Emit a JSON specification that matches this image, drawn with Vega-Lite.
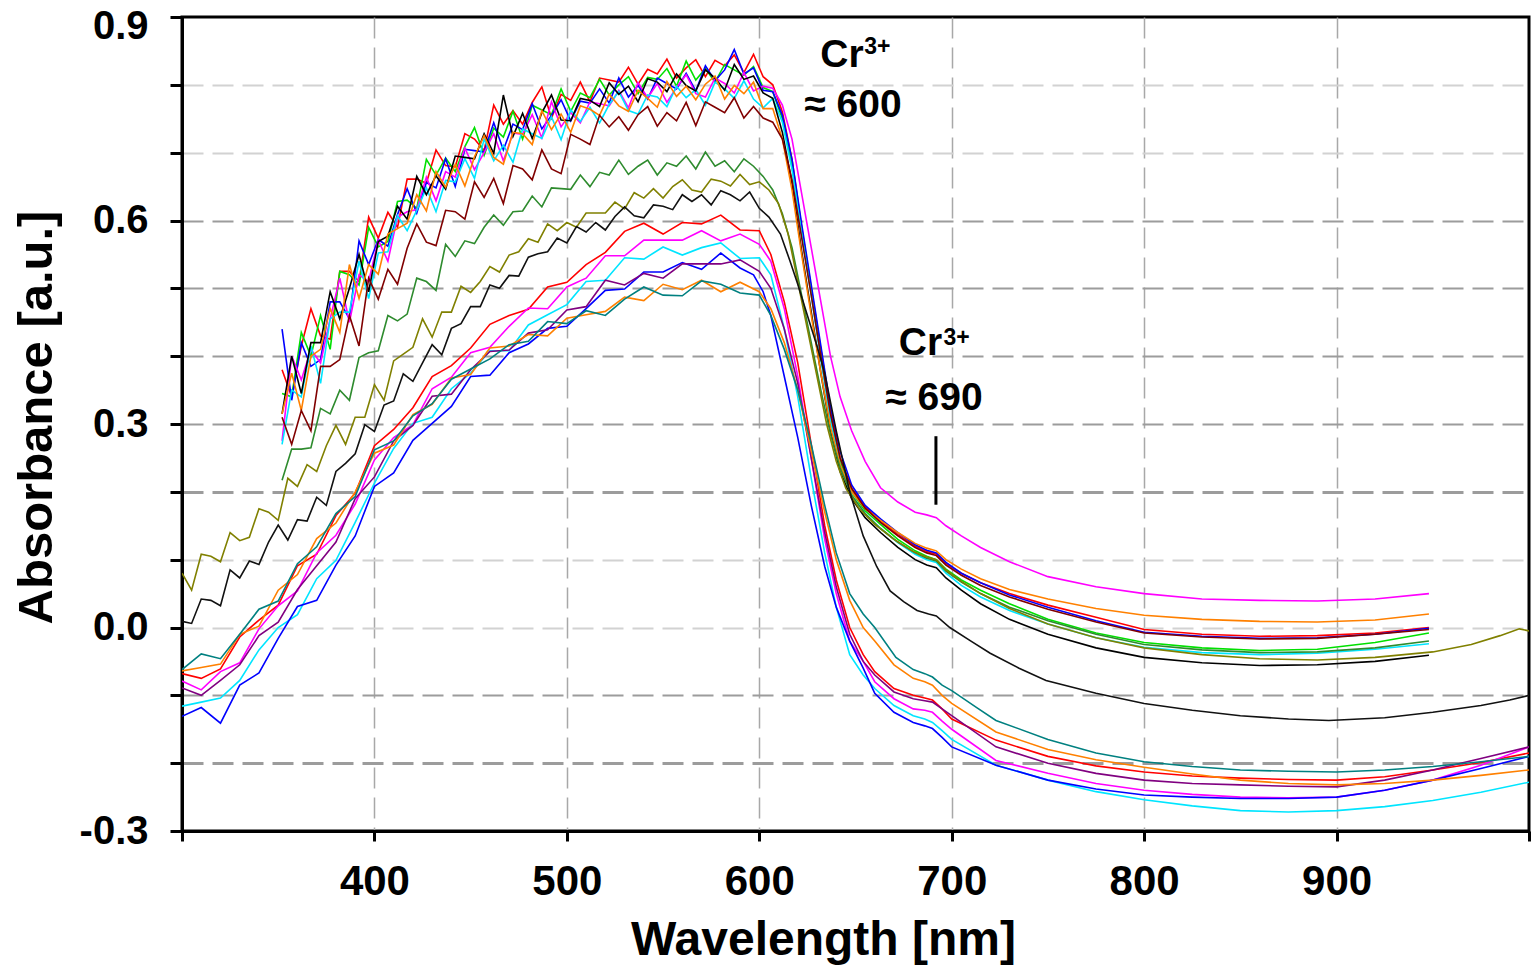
{
"$schema":"https://vega.github.io/schema/vega-lite/v6.json",
"width":1347,"height":814,
"autosize":{"type":"none"},
"padding":{"left":182,"top":17,"right":5,"bottom":148},
"background":"#ffffff",
"config":{"view":{"stroke":"#000000","strokeWidth":3},"font":"Liberation Sans"},
"datasets":{
"spectra":[
{"s":"a1","x":352,"y":0.38},{"s":"a1","x":357,"y":0.34},{"s":"a1","x":362,"y":0.415},{"s":"a1","x":367,"y":0.47},{"s":"a1","x":372,"y":0.43},{"s":"a1","x":377,"y":0.425},{"s":"a1","x":382,"y":0.525},{"s":"a1","x":387,"y":0.525},{"s":"a1","x":392,"y":0.51},{"s":"a1","x":397,"y":0.605},{"s":"a1","x":402,"y":0.574},{"s":"a1","x":407,"y":0.612},{"s":"a1","x":412,"y":0.59},{"s":"a1","x":417,"y":0.661},{"s":"a1","x":422,"y":0.661},{"s":"a1","x":427,"y":0.655},{"s":"a1","x":432,"y":0.704},{"s":"a1","x":437,"y":0.681},{"s":"a1","x":442,"y":0.679},{"s":"a1","x":447,"y":0.728},{"s":"a1","x":452,"y":0.72},{"s":"a1","x":457,"y":0.703},{"s":"a1","x":462,"y":0.77},{"s":"a1","x":467,"y":0.742},{"s":"a1","x":472,"y":0.762},{"s":"a1","x":477,"y":0.742},{"s":"a1","x":482,"y":0.774},{"s":"a1","x":487,"y":0.797},{"s":"a1","x":492,"y":0.751},{"s":"a1","x":497,"y":0.786},{"s":"a1","x":502,"y":0.777},{"s":"a1","x":507,"y":0.804},{"s":"a1","x":512,"y":0.775},{"s":"a1","x":517,"y":0.81},{"s":"a1","x":522,"y":0.807},{"s":"a1","x":527,"y":0.804},{"s":"a1","x":532,"y":0.826},{"s":"a1","x":537,"y":0.801},{"s":"a1","x":542,"y":0.823},{"s":"a1","x":547,"y":0.816},{"s":"a1","x":552,"y":0.838},{"s":"a1","x":557,"y":0.81},{"s":"a1","x":562,"y":0.825},{"s":"a1","x":567,"y":0.837},{"s":"a1","x":572,"y":0.812},{"s":"a1","x":577,"y":0.836},{"s":"a1","x":582,"y":0.828},{"s":"a1","x":587,"y":0.844},{"s":"a1","x":592,"y":0.818},{"s":"a1","x":597,"y":0.845},{"s":"a1","x":602,"y":0.812},
{"s":"a1","x":607,"y":0.80},{"s":"a1","x":612,"y":0.76},{"s":"a1","x":617,"y":0.69},{"s":"a1","x":622,"y":0.59},{"s":"a1","x":627,"y":0.50},{"s":"a1","x":632,"y":0.41},{"s":"a1","x":637,"y":0.32},{"s":"a1","x":642,"y":0.25},{"s":"a1","x":648,"y":0.205},{"s":"a1","x":655,"y":0.178},{"s":"a1","x":663,"y":0.157},{"s":"a1","x":672,"y":0.137},{"s":"a1","x":681,"y":0.12},{"s":"a1","x":687,"y":0.112},{"s":"a1","x":692,"y":0.108},{"s":"a1","x":697,"y":0.094},{"s":"a1","x":705,"y":0.08},{"s":"a1","x":715,"y":0.066},{"s":"a1","x":730,"y":0.05},{"s":"a1","x":750,"y":0.033},{"s":"a1","x":775,"y":0.015},{"s":"a1","x":800,"y":-0.003},{"s":"a1","x":830,"y":-0.01},{"s":"a1","x":860,"y":-0.013},{"s":"a1","x":890,"y":-0.012},{"s":"a1","x":920,"y":-0.008},{"s":"a1","x":948,"y":0.0},
{"s":"a2","x":352,"y":0.345},{"s":"a2","x":357,"y":0.34},{"s":"a2","x":362,"y":0.435},{"s":"a2","x":367,"y":0.40},{"s":"a2","x":372,"y":0.46},{"s":"a2","x":377,"y":0.41},{"s":"a2","x":382,"y":0.525},{"s":"a2","x":387,"y":0.52},{"s":"a2","x":392,"y":0.505},{"s":"a2","x":397,"y":0.59},{"s":"a2","x":402,"y":0.561},{"s":"a2","x":407,"y":0.569},{"s":"a2","x":412,"y":0.628},{"s":"a2","x":417,"y":0.63},{"s":"a2","x":422,"y":0.618},{"s":"a2","x":427,"y":0.69},{"s":"a2","x":432,"y":0.667},{"s":"a2","x":437,"y":0.692},{"s":"a2","x":442,"y":0.672},{"s":"a2","x":447,"y":0.709},{"s":"a2","x":452,"y":0.737},{"s":"a2","x":457,"y":0.696},{"s":"a2","x":462,"y":0.736},{"s":"a2","x":467,"y":0.723},{"s":"a2","x":472,"y":0.761},{"s":"a2","x":477,"y":0.72},{"s":"a2","x":482,"y":0.77},{"s":"a2","x":487,"y":0.763},{"s":"a2","x":492,"y":0.756},{"s":"a2","x":497,"y":0.794},{"s":"a2","x":502,"y":0.761},{"s":"a2","x":507,"y":0.788},{"s":"a2","x":512,"y":0.781},{"s":"a2","x":517,"y":0.808},{"s":"a2","x":522,"y":0.785},{"s":"a2","x":527,"y":0.80},{"s":"a2","x":532,"y":0.812},{"s":"a2","x":537,"y":0.787},{"s":"a2","x":542,"y":0.811},{"s":"a2","x":547,"y":0.808},{"s":"a2","x":552,"y":0.824},{"s":"a2","x":557,"y":0.798},{"s":"a2","x":562,"y":0.835},{"s":"a2","x":567,"y":0.807},{"s":"a2","x":572,"y":0.824},{"s":"a2","x":577,"y":0.804},{"s":"a2","x":582,"y":0.83},{"s":"a2","x":587,"y":0.822},{"s":"a2","x":592,"y":0.814},{"s":"a2","x":597,"y":0.827},{"s":"a2","x":602,"y":0.796},
{"s":"a2","x":607,"y":0.79},{"s":"a2","x":612,"y":0.75},{"s":"a2","x":617,"y":0.68},{"s":"a2","x":622,"y":0.585},{"s":"a2","x":627,"y":0.495},{"s":"a2","x":632,"y":0.40},{"s":"a2","x":637,"y":0.31},{"s":"a2","x":642,"y":0.245},{"s":"a2","x":648,"y":0.20},{"s":"a2","x":655,"y":0.172},{"s":"a2","x":663,"y":0.152},{"s":"a2","x":672,"y":0.13},{"s":"a2","x":681,"y":0.113},{"s":"a2","x":687,"y":0.105},{"s":"a2","x":692,"y":0.10},{"s":"a2","x":697,"y":0.086},{"s":"a2","x":705,"y":0.07},{"s":"a2","x":715,"y":0.055},{"s":"a2","x":730,"y":0.035},{"s":"a2","x":750,"y":0.012},{"s":"a2","x":775,"y":-0.008},{"s":"a2","x":800,"y":-0.022},{"s":"a2","x":830,"y":-0.03},{"s":"a2","x":860,"y":-0.034},{"s":"a2","x":890,"y":-0.032},{"s":"a2","x":920,"y":-0.022},{"s":"a2","x":948,"y":-0.008},
{"s":"a3","x":352,"y":0.44},{"s":"a3","x":357,"y":0.335},{"s":"a3","x":362,"y":0.42},{"s":"a3","x":367,"y":0.385},{"s":"a3","x":372,"y":0.395},{"s":"a3","x":377,"y":0.48},{"s":"a3","x":382,"y":0.48},{"s":"a3","x":387,"y":0.455},{"s":"a3","x":392,"y":0.57},{"s":"a3","x":397,"y":0.535},{"s":"a3","x":402,"y":0.572},{"s":"a3","x":407,"y":0.562},{"s":"a3","x":412,"y":0.609},{"s":"a3","x":417,"y":0.647},{"s":"a3","x":422,"y":0.611},{"s":"a3","x":427,"y":0.656},{"s":"a3","x":432,"y":0.648},{"s":"a3","x":437,"y":0.691},{"s":"a3","x":442,"y":0.65},{"s":"a3","x":447,"y":0.705},{"s":"a3","x":452,"y":0.703},{"s":"a3","x":457,"y":0.701},{"s":"a3","x":462,"y":0.744},{"s":"a3","x":467,"y":0.704},{"s":"a3","x":472,"y":0.742},{"s":"a3","x":477,"y":0.734},{"s":"a3","x":482,"y":0.772},{"s":"a3","x":487,"y":0.735},{"s":"a3","x":492,"y":0.755},{"s":"a3","x":497,"y":0.778},{"s":"a3","x":502,"y":0.747},{"s":"a3","x":507,"y":0.776},{"s":"a3","x":512,"y":0.773},{"s":"a3","x":517,"y":0.794},{"s":"a3","x":522,"y":0.773},{"s":"a3","x":527,"y":0.81},{"s":"a3","x":532,"y":0.782},{"s":"a3","x":537,"y":0.799},{"s":"a3","x":542,"y":0.779},{"s":"a3","x":547,"y":0.81},{"s":"a3","x":552,"y":0.802},{"s":"a3","x":557,"y":0.794},{"s":"a3","x":562,"y":0.817},{"s":"a3","x":567,"y":0.791},{"s":"a3","x":572,"y":0.828},{"s":"a3","x":577,"y":0.806},{"s":"a3","x":582,"y":0.822},{"s":"a3","x":587,"y":0.852},{"s":"a3","x":592,"y":0.816},{"s":"a3","x":597,"y":0.825},{"s":"a3","x":602,"y":0.792},
{"s":"a3","x":607,"y":0.79},{"s":"a3","x":612,"y":0.755},{"s":"a3","x":617,"y":0.69},{"s":"a3","x":622,"y":0.595},{"s":"a3","x":627,"y":0.505},{"s":"a3","x":632,"y":0.415},{"s":"a3","x":637,"y":0.325},{"s":"a3","x":642,"y":0.26},{"s":"a3","x":648,"y":0.21},{"s":"a3","x":655,"y":0.18},{"s":"a3","x":663,"y":0.16},{"s":"a3","x":672,"y":0.14},{"s":"a3","x":681,"y":0.122},{"s":"a3","x":687,"y":0.114},{"s":"a3","x":692,"y":0.11},{"s":"a3","x":697,"y":0.096},{"s":"a3","x":705,"y":0.08},{"s":"a3","x":715,"y":0.066},{"s":"a3","x":730,"y":0.048},{"s":"a3","x":750,"y":0.03},{"s":"a3","x":775,"y":0.01},{"s":"a3","x":800,"y":-0.007},{"s":"a3","x":830,"y":-0.013},{"s":"a3","x":860,"y":-0.016},{"s":"a3","x":890,"y":-0.015},{"s":"a3","x":920,"y":-0.01},{"s":"a3","x":948,"y":-0.001},
{"s":"a4","x":352,"y":0.275},{"s":"a4","x":357,"y":0.40},{"s":"a4","x":362,"y":0.365},{"s":"a4","x":367,"y":0.41},{"s":"a4","x":372,"y":0.39},{"s":"a4","x":377,"y":0.455},{"s":"a4","x":382,"y":0.515},{"s":"a4","x":387,"y":0.45},{"s":"a4","x":392,"y":0.52},{"s":"a4","x":397,"y":0.51},{"s":"a4","x":402,"y":0.571},{"s":"a4","x":407,"y":0.54},{"s":"a4","x":412,"y":0.605},{"s":"a4","x":417,"y":0.613},{"s":"a4","x":422,"y":0.616},{"s":"a4","x":427,"y":0.664},{"s":"a4","x":432,"y":0.629},{"s":"a4","x":437,"y":0.672},{"s":"a4","x":442,"y":0.664},{"s":"a4","x":447,"y":0.707},{"s":"a4","x":452,"y":0.675},{"s":"a4","x":457,"y":0.70},{"s":"a4","x":462,"y":0.728},{"s":"a4","x":467,"y":0.688},{"s":"a4","x":472,"y":0.729},{"s":"a4","x":477,"y":0.727},{"s":"a4","x":482,"y":0.756},{"s":"a4","x":487,"y":0.722},{"s":"a4","x":492,"y":0.775},{"s":"a4","x":497,"y":0.738},{"s":"a4","x":502,"y":0.759},{"s":"a4","x":507,"y":0.744},{"s":"a4","x":512,"y":0.775},{"s":"a4","x":517,"y":0.772},{"s":"a4","x":522,"y":0.769},{"s":"a4","x":527,"y":0.792},{"s":"a4","x":532,"y":0.766},{"s":"a4","x":537,"y":0.803},{"s":"a4","x":542,"y":0.781},{"s":"a4","x":547,"y":0.802},{"s":"a4","x":552,"y":0.774},{"s":"a4","x":557,"y":0.796},{"s":"a4","x":562,"y":0.815},{"s":"a4","x":567,"y":0.787},{"s":"a4","x":572,"y":0.782},{"s":"a4","x":577,"y":0.81},{"s":"a4","x":582,"y":0.802},{"s":"a4","x":587,"y":0.788},{"s":"a4","x":592,"y":0.818},{"s":"a4","x":597,"y":0.791},{"s":"a4","x":602,"y":0.798},
{"s":"a4","x":607,"y":0.795},{"s":"a4","x":612,"y":0.77},{"s":"a4","x":617,"y":0.72},{"s":"a4","x":622,"y":0.64},{"s":"a4","x":627,"y":0.56},{"s":"a4","x":632,"y":0.48},{"s":"a4","x":637,"y":0.40},{"s":"a4","x":642,"y":0.34},{"s":"a4","x":648,"y":0.29},{"s":"a4","x":655,"y":0.245},{"s":"a4","x":663,"y":0.206},{"s":"a4","x":672,"y":0.185},{"s":"a4","x":681,"y":0.17},{"s":"a4","x":687,"y":0.166},{"s":"a4","x":692,"y":0.162},{"s":"a4","x":697,"y":0.15},{"s":"a4","x":705,"y":0.135},{"s":"a4","x":715,"y":0.118},{"s":"a4","x":730,"y":0.097},{"s":"a4","x":750,"y":0.075},{"s":"a4","x":775,"y":0.06},{"s":"a4","x":800,"y":0.05},{"s":"a4","x":830,"y":0.042},{"s":"a4","x":860,"y":0.04},{"s":"a4","x":890,"y":0.039},{"s":"a4","x":920,"y":0.042},{"s":"a4","x":948,"y":0.05},
{"s":"a5","x":352,"y":0.27},{"s":"a5","x":357,"y":0.35},{"s":"a5","x":362,"y":0.34},{"s":"a5","x":367,"y":0.415},{"s":"a5","x":372,"y":0.36},{"s":"a5","x":377,"y":0.455},{"s":"a5","x":382,"y":0.465},{"s":"a5","x":387,"y":0.465},{"s":"a5","x":392,"y":0.54},{"s":"a5","x":397,"y":0.485},{"s":"a5","x":402,"y":0.552},{"s":"a5","x":407,"y":0.554},{"s":"a5","x":412,"y":0.607},{"s":"a5","x":417,"y":0.585},{"s":"a5","x":422,"y":0.615},{"s":"a5","x":427,"y":0.648},{"s":"a5","x":432,"y":0.613},{"s":"a5","x":437,"y":0.659},{"s":"a5","x":442,"y":0.657},{"s":"a5","x":447,"y":0.691},{"s":"a5","x":452,"y":0.662},{"s":"a5","x":457,"y":0.72},{"s":"a5","x":462,"y":0.688},{"s":"a5","x":467,"y":0.711},{"s":"a5","x":472,"y":0.686},{"s":"a5","x":477,"y":0.735},{"s":"a5","x":482,"y":0.728},{"s":"a5","x":487,"y":0.721},{"s":"a5","x":492,"y":0.753},{"s":"a5","x":497,"y":0.719},{"s":"a5","x":502,"y":0.763},{"s":"a5","x":507,"y":0.746},{"s":"a5","x":512,"y":0.767},{"s":"a5","x":517,"y":0.744},{"s":"a5","x":522,"y":0.771},{"s":"a5","x":527,"y":0.79},{"s":"a5","x":532,"y":0.762},{"s":"a5","x":537,"y":0.757},{"s":"a5","x":542,"y":0.785},{"s":"a5","x":547,"y":0.782},{"s":"a5","x":552,"y":0.768},{"s":"a5","x":557,"y":0.798},{"s":"a5","x":562,"y":0.781},{"s":"a5","x":567,"y":0.793},{"s":"a5","x":572,"y":0.77},{"s":"a5","x":577,"y":0.804},{"s":"a5","x":582,"y":0.794},{"s":"a5","x":587,"y":0.78},{"s":"a5","x":592,"y":0.806},{"s":"a5","x":597,"y":0.779},{"s":"a5","x":602,"y":0.766},
{"s":"a5","x":607,"y":0.78},{"s":"a5","x":612,"y":0.745},{"s":"a5","x":617,"y":0.675},{"s":"a5","x":622,"y":0.58},{"s":"a5","x":627,"y":0.49},{"s":"a5","x":632,"y":0.395},{"s":"a5","x":637,"y":0.305},{"s":"a5","x":642,"y":0.24},{"s":"a5","x":648,"y":0.195},{"s":"a5","x":655,"y":0.168},{"s":"a5","x":663,"y":0.146},{"s":"a5","x":672,"y":0.125},{"s":"a5","x":681,"y":0.108},{"s":"a5","x":687,"y":0.1},{"s":"a5","x":692,"y":0.096},{"s":"a5","x":697,"y":0.08},{"s":"a5","x":705,"y":0.062},{"s":"a5","x":715,"y":0.045},{"s":"a5","x":730,"y":0.025},{"s":"a5","x":750,"y":0.005},{"s":"a5","x":775,"y":-0.015},{"s":"a5","x":800,"y":-0.029},{"s":"a5","x":830,"y":-0.037},{"s":"a5","x":860,"y":-0.04},{"s":"a5","x":890,"y":-0.038},{"s":"a5","x":920,"y":-0.032},{"s":"a5","x":948,"y":-0.024},
{"s":"a6","x":352,"y":0.315},{"s":"a6","x":357,"y":0.40},{"s":"a6","x":362,"y":0.345},{"s":"a6","x":367,"y":0.42},{"s":"a6","x":372,"y":0.42},{"s":"a6","x":377,"y":0.495},{"s":"a6","x":382,"y":0.455},{"s":"a6","x":387,"y":0.50},{"s":"a6","x":392,"y":0.55},{"s":"a6","x":397,"y":0.495},{"s":"a6","x":402,"y":0.569},{"s":"a6","x":407,"y":0.577},{"s":"a6","x":412,"y":0.621},{"s":"a6","x":417,"y":0.602},{"s":"a6","x":422,"y":0.665},{"s":"a6","x":427,"y":0.638},{"s":"a6","x":432,"y":0.666},{"s":"a6","x":437,"y":0.646},{"s":"a6","x":442,"y":0.695},{"s":"a6","x":447,"y":0.693},{"s":"a6","x":452,"y":0.691},{"s":"a6","x":457,"y":0.728},{"s":"a6","x":462,"y":0.699},{"s":"a6","x":467,"y":0.785},{"s":"a6","x":472,"y":0.724},{"s":"a6","x":477,"y":0.758},{"s":"a6","x":482,"y":0.721},{"s":"a6","x":487,"y":0.759},{"s":"a6","x":492,"y":0.785},{"s":"a6","x":497,"y":0.748},{"s":"a6","x":502,"y":0.747},{"s":"a6","x":507,"y":0.78},{"s":"a6","x":512,"y":0.777},{"s":"a6","x":517,"y":0.768},{"s":"a6","x":522,"y":0.803},{"s":"a6","x":527,"y":0.786},{"s":"a6","x":532,"y":0.798},{"s":"a6","x":537,"y":0.775},{"s":"a6","x":542,"y":0.809},{"s":"a6","x":547,"y":0.804},{"s":"a6","x":552,"y":0.79},{"s":"a6","x":557,"y":0.816},{"s":"a6","x":562,"y":0.799},{"s":"a6","x":567,"y":0.791},{"s":"a6","x":572,"y":0.822},{"s":"a6","x":577,"y":0.81},{"s":"a6","x":582,"y":0.792},{"s":"a6","x":587,"y":0.83},{"s":"a6","x":592,"y":0.808},{"s":"a6","x":597,"y":0.813},{"s":"a6","x":602,"y":0.788},
{"s":"a6","x":607,"y":0.78},{"s":"a6","x":612,"y":0.73},{"s":"a6","x":617,"y":0.655},{"s":"a6","x":622,"y":0.555},{"s":"a6","x":627,"y":0.465},{"s":"a6","x":632,"y":0.375},{"s":"a6","x":637,"y":0.29},{"s":"a6","x":642,"y":0.23},{"s":"a6","x":648,"y":0.19},{"s":"a6","x":655,"y":0.162},{"s":"a6","x":663,"y":0.14},{"s":"a6","x":672,"y":0.118},{"s":"a6","x":681,"y":0.1},{"s":"a6","x":687,"y":0.092},{"s":"a6","x":692,"y":0.088},{"s":"a6","x":697,"y":0.073},{"s":"a6","x":705,"y":0.055},{"s":"a6","x":715,"y":0.035},{"s":"a6","x":730,"y":0.012},{"s":"a6","x":750,"y":-0.01},{"s":"a6","x":775,"y":-0.03},{"s":"a6","x":800,"y":-0.044},{"s":"a6","x":830,"y":-0.052},{"s":"a6","x":860,"y":-0.056},{"s":"a6","x":890,"y":-0.055},{"s":"a6","x":920,"y":-0.05},{"s":"a6","x":948,"y":-0.041},
{"s":"a7","x":352,"y":0.315},{"s":"a7","x":357,"y":0.375},{"s":"a7","x":362,"y":0.32},{"s":"a7","x":367,"y":0.40},{"s":"a7","x":372,"y":0.41},{"s":"a7","x":377,"y":0.47},{"s":"a7","x":382,"y":0.435},{"s":"a7","x":387,"y":0.535},{"s":"a7","x":392,"y":0.485},{"s":"a7","x":397,"y":0.535},{"s":"a7","x":402,"y":0.521},{"s":"a7","x":407,"y":0.58},{"s":"a7","x":412,"y":0.588},{"s":"a7","x":417,"y":0.596},{"s":"a7","x":422,"y":0.638},{"s":"a7","x":427,"y":0.614},{"s":"a7","x":432,"y":0.672},{"s":"a7","x":437,"y":0.649},{"s":"a7","x":442,"y":0.683},{"s":"a7","x":447,"y":0.651},{"s":"a7","x":452,"y":0.694},{"s":"a7","x":457,"y":0.725},{"s":"a7","x":462,"y":0.693},{"s":"a7","x":467,"y":0.683},{"s":"a7","x":472,"y":0.73},{"s":"a7","x":477,"y":0.728},{"s":"a7","x":482,"y":0.712},{"s":"a7","x":487,"y":0.762},{"s":"a7","x":492,"y":0.734},{"s":"a7","x":497,"y":0.757},{"s":"a7","x":502,"y":0.73},{"s":"a7","x":507,"y":0.769},{"s":"a7","x":512,"y":0.764},{"s":"a7","x":517,"y":0.755},{"s":"a7","x":522,"y":0.786},{"s":"a7","x":527,"y":0.769},{"s":"a7","x":532,"y":0.761},{"s":"a7","x":537,"y":0.792},{"s":"a7","x":542,"y":0.78},{"s":"a7","x":547,"y":0.767},{"s":"a7","x":552,"y":0.805},{"s":"a7","x":557,"y":0.783},{"s":"a7","x":562,"y":0.798},{"s":"a7","x":567,"y":0.778},{"s":"a7","x":572,"y":0.801},{"s":"a7","x":577,"y":0.813},{"s":"a7","x":582,"y":0.779},{"s":"a7","x":587,"y":0.799},{"s":"a7","x":592,"y":0.787},{"s":"a7","x":597,"y":0.804},{"s":"a7","x":602,"y":0.765},
{"s":"a7","x":607,"y":0.765},{"s":"a7","x":612,"y":0.72},{"s":"a7","x":617,"y":0.645},{"s":"a7","x":622,"y":0.55},{"s":"a7","x":627,"y":0.46},{"s":"a7","x":632,"y":0.375},{"s":"a7","x":637,"y":0.295},{"s":"a7","x":642,"y":0.24},{"s":"a7","x":648,"y":0.2},{"s":"a7","x":655,"y":0.175},{"s":"a7","x":663,"y":0.158},{"s":"a7","x":672,"y":0.14},{"s":"a7","x":681,"y":0.124},{"s":"a7","x":687,"y":0.117},{"s":"a7","x":692,"y":0.113},{"s":"a7","x":697,"y":0.1},{"s":"a7","x":705,"y":0.086},{"s":"a7","x":715,"y":0.072},{"s":"a7","x":730,"y":0.056},{"s":"a7","x":750,"y":0.042},{"s":"a7","x":775,"y":0.028},{"s":"a7","x":800,"y":0.018},{"s":"a7","x":830,"y":0.012},{"s":"a7","x":860,"y":0.009},{"s":"a7","x":890,"y":0.008},{"s":"a7","x":920,"y":0.011},{"s":"a7","x":948,"y":0.02},
{"s":"a8","x":352,"y":0.31},{"s":"a8","x":357,"y":0.27},{"s":"a8","x":362,"y":0.32},{"s":"a8","x":367,"y":0.29},{"s":"a8","x":372,"y":0.385},{"s":"a8","x":377,"y":0.385},{"s":"a8","x":382,"y":0.395},{"s":"a8","x":387,"y":0.46},{"s":"a8","x":392,"y":0.415},{"s":"a8","x":397,"y":0.515},{"s":"a8","x":402,"y":0.484},{"s":"a8","x":407,"y":0.528},{"s":"a8","x":412,"y":0.506},{"s":"a8","x":417,"y":0.559},{"s":"a8","x":422,"y":0.595},{"s":"a8","x":427,"y":0.568},{"s":"a8","x":432,"y":0.563},{"s":"a8","x":437,"y":0.615},{"s":"a8","x":442,"y":0.613},{"s":"a8","x":447,"y":0.602},{"s":"a8","x":452,"y":0.657},{"s":"a8","x":457,"y":0.634},{"s":"a8","x":462,"y":0.662},{"s":"a8","x":467,"y":0.625},{"s":"a8","x":472,"y":0.681},{"s":"a8","x":477,"y":0.676},{"s":"a8","x":482,"y":0.66},{"s":"a8","x":487,"y":0.704},{"s":"a8","x":492,"y":0.676},{"s":"a8","x":497,"y":0.669},{"s":"a8","x":502,"y":0.727},{"s":"a8","x":507,"y":0.72},{"s":"a8","x":512,"y":0.712},{"s":"a8","x":517,"y":0.755},{"s":"a8","x":522,"y":0.738},{"s":"a8","x":527,"y":0.753},{"s":"a8","x":532,"y":0.733},{"s":"a8","x":537,"y":0.756},{"s":"a8","x":542,"y":0.768},{"s":"a8","x":547,"y":0.739},{"s":"a8","x":552,"y":0.759},{"s":"a8","x":557,"y":0.747},{"s":"a8","x":562,"y":0.774},{"s":"a8","x":567,"y":0.74},{"s":"a8","x":572,"y":0.775},{"s":"a8","x":577,"y":0.767},{"s":"a8","x":582,"y":0.759},{"s":"a8","x":587,"y":0.781},{"s":"a8","x":592,"y":0.751},{"s":"a8","x":597,"y":0.768},{"s":"a8","x":602,"y":0.751},
{"s":"a8","x":607,"y":0.745},{"s":"a8","x":612,"y":0.72},{"s":"a8","x":617,"y":0.66},{"s":"a8","x":622,"y":0.575},{"s":"a8","x":627,"y":0.49},{"s":"a8","x":632,"y":0.40},{"s":"a8","x":637,"y":0.315},{"s":"a8","x":642,"y":0.25},{"s":"a8","x":648,"y":0.205},{"s":"a8","x":655,"y":0.176},{"s":"a8","x":663,"y":0.155},{"s":"a8","x":672,"y":0.135},{"s":"a8","x":681,"y":0.118},{"s":"a8","x":687,"y":0.11},{"s":"a8","x":692,"y":0.106},{"s":"a8","x":697,"y":0.092},{"s":"a8","x":705,"y":0.077},{"s":"a8","x":715,"y":0.062},{"s":"a8","x":730,"y":0.045},{"s":"a8","x":750,"y":0.027},{"s":"a8","x":775,"y":0.008},{"s":"a8","x":800,"y":-0.008},{"s":"a8","x":830,"y":-0.014},{"s":"a8","x":860,"y":-0.017},{"s":"a8","x":890,"y":-0.016},{"s":"a8","x":920,"y":-0.01},{"s":"a8","x":948,"y":-0.003},
{"s":"b1","x":352,"y":0.217},{"s":"b1","x":357,"y":0.263},{"s":"b1","x":362,"y":0.263},{"s":"b1","x":367,"y":0.265},{"s":"b1","x":372,"y":0.323},{"s":"b1","x":377,"y":0.315},{"s":"b1","x":382,"y":0.35},{"s":"b1","x":387,"y":0.335},{"s":"b1","x":392,"y":0.398},{"s":"b1","x":397,"y":0.405},{"s":"b1","x":402,"y":0.408},{"s":"b1","x":407,"y":0.46},{"s":"b1","x":412,"y":0.452},{"s":"b1","x":417,"y":0.462},{"s":"b1","x":422,"y":0.515},{"s":"b1","x":427,"y":0.51},{"s":"b1","x":432,"y":0.497},{"s":"b1","x":437,"y":0.565},{"s":"b1","x":442,"y":0.547},{"s":"b1","x":447,"y":0.57},{"s":"b1","x":452,"y":0.566},{"s":"b1","x":457,"y":0.59},{"s":"b1","x":462,"y":0.608},{"s":"b1","x":467,"y":0.593},{"s":"b1","x":472,"y":0.613},{"s":"b1","x":477,"y":0.614},{"s":"b1","x":482,"y":0.636},{"s":"b1","x":487,"y":0.62},{"s":"b1","x":492,"y":0.648},{"s":"b1","x":497,"y":0.647},{"s":"b1","x":502,"y":0.646},{"s":"b1","x":507,"y":0.667},{"s":"b1","x":512,"y":0.65},{"s":"b1","x":517,"y":0.671},{"s":"b1","x":522,"y":0.667},{"s":"b1","x":527,"y":0.689},{"s":"b1","x":532,"y":0.668},{"s":"b1","x":537,"y":0.68},{"s":"b1","x":542,"y":0.689},{"s":"b1","x":547,"y":0.667},{"s":"b1","x":552,"y":0.685},{"s":"b1","x":557,"y":0.68},{"s":"b1","x":562,"y":0.695},{"s":"b1","x":567,"y":0.676},{"s":"b1","x":572,"y":0.701},{"s":"b1","x":577,"y":0.68},{"s":"b1","x":582,"y":0.688},{"s":"b1","x":587,"y":0.672},{"s":"b1","x":592,"y":0.691},{"s":"b1","x":597,"y":0.68},{"s":"b1","x":602,"y":0.665},
{"s":"b1","x":607,"y":0.645},{"s":"b1","x":612,"y":0.61},{"s":"b1","x":617,"y":0.56},{"s":"b1","x":622,"y":0.49},{"s":"b1","x":627,"y":0.42},{"s":"b1","x":632,"y":0.35},{"s":"b1","x":637,"y":0.285},{"s":"b1","x":642,"y":0.235},{"s":"b1","x":648,"y":0.195},{"s":"b1","x":655,"y":0.168},{"s":"b1","x":663,"y":0.146},{"s":"b1","x":672,"y":0.126},{"s":"b1","x":681,"y":0.11},{"s":"b1","x":687,"y":0.102},{"s":"b1","x":692,"y":0.098},{"s":"b1","x":697,"y":0.083},{"s":"b1","x":705,"y":0.067},{"s":"b1","x":715,"y":0.05},{"s":"b1","x":730,"y":0.03},{"s":"b1","x":750,"y":0.01},{"s":"b1","x":775,"y":-0.01},{"s":"b1","x":800,"y":-0.025},{"s":"b1","x":830,"y":-0.033},{"s":"b1","x":860,"y":-0.037},{"s":"b1","x":890,"y":-0.036},{"s":"b1","x":920,"y":-0.03},{"s":"b1","x":948,"y":-0.02},
{"s":"b2","x":300,"y":0.08},{"s":"b2","x":305,"y":0.055},{"s":"b2","x":310,"y":0.108},{"s":"b2","x":315,"y":0.105},{"s":"b2","x":320,"y":0.097},{"s":"b2","x":325,"y":0.14},{"s":"b2","x":330,"y":0.128},{"s":"b2","x":335,"y":0.133},{"s":"b2","x":340,"y":0.175},{"s":"b2","x":345,"y":0.17},{"s":"b2","x":350,"y":0.158},{"s":"b2","x":355,"y":0.22},{"s":"b2","x":360,"y":0.208},{"s":"b2","x":365,"y":0.24},{"s":"b2","x":370,"y":0.23},{"s":"b2","x":375,"y":0.268},{"s":"b2","x":380,"y":0.298},{"s":"b2","x":385,"y":0.27},{"s":"b2","x":390,"y":0.31},{"s":"b2","x":395,"y":0.31},{"s":"b2","x":400,"y":0.358},{"s":"b2","x":405,"y":0.335},{"s":"b2","x":410,"y":0.393},{"s":"b2","x":415,"y":0.403},{"s":"b2","x":420,"y":0.413},{"s":"b2","x":425,"y":0.455},{"s":"b2","x":430,"y":0.428},{"s":"b2","x":435,"y":0.465},{"s":"b2","x":440,"y":0.465},{"s":"b2","x":445,"y":0.503},{"s":"b2","x":450,"y":0.494},{"s":"b2","x":455,"y":0.51},{"s":"b2","x":460,"y":0.532},{"s":"b2","x":465,"y":0.524},{"s":"b2","x":470,"y":0.549},{"s":"b2","x":475,"y":0.554},{"s":"b2","x":480,"y":0.573},{"s":"b2","x":485,"y":0.568},{"s":"b2","x":490,"y":0.595},{"s":"b2","x":495,"y":0.585},{"s":"b2","x":500,"y":0.597},{"s":"b2","x":505,"y":0.59},{"s":"b2","x":510,"y":0.611},{"s":"b2","x":515,"y":0.611},{"s":"b2","x":520,"y":0.611},{"s":"b2","x":525,"y":0.627},{"s":"b2","x":530,"y":0.617},{"s":"b2","x":535,"y":0.641},{"s":"b2","x":540,"y":0.633},{"s":"b2","x":545,"y":0.647},{"s":"b2","x":550,"y":0.633},{"s":"b2","x":555,"y":0.65},{"s":"b2","x":560,"y":0.66},{"s":"b2","x":565,"y":0.645},{"s":"b2","x":570,"y":0.642},{"s":"b2","x":575,"y":0.661},{"s":"b2","x":580,"y":0.658},{"s":"b2","x":585,"y":0.651},{"s":"b2","x":590,"y":0.668},{"s":"b2","x":595,"y":0.653},{"s":"b2","x":600,"y":0.657},
{"s":"b2","x":605,"y":0.645},{"s":"b2","x":610,"y":0.625},{"s":"b2","x":615,"y":0.58},{"s":"b2","x":620,"y":0.51},{"s":"b2","x":625,"y":0.44},{"s":"b2","x":630,"y":0.37},{"s":"b2","x":635,"y":0.30},{"s":"b2","x":640,"y":0.245},{"s":"b2","x":645,"y":0.205},{"s":"b2","x":652,"y":0.175},{"s":"b2","x":660,"y":0.152},{"s":"b2","x":670,"y":0.13},{"s":"b2","x":680,"y":0.112},{"s":"b2","x":687,"y":0.104},{"s":"b2","x":692,"y":0.1},{"s":"b2","x":697,"y":0.085},{"s":"b2","x":705,"y":0.068},{"s":"b2","x":715,"y":0.05},{"s":"b2","x":730,"y":0.028},{"s":"b2","x":750,"y":0.005},{"s":"b2","x":775,"y":-0.015},{"s":"b2","x":800,"y":-0.03},{"s":"b2","x":830,"y":-0.04},{"s":"b2","x":860,"y":-0.046},{"s":"b2","x":890,"y":-0.048},{"s":"b2","x":920,"y":-0.044},{"s":"b2","x":950,"y":-0.036},{"s":"b2","x":970,"y":-0.025},{"s":"b2","x":985,"y":-0.012},{"s":"b2","x":995,"y":-0.002},{"s":"b2","x":1000,"y":-0.005},
{"s":"b3","x":300,"y":0.009},{"s":"b3","x":305,"y":0.006},{"s":"b3","x":310,"y":0.042},{"s":"b3","x":315,"y":0.04},{"s":"b3","x":320,"y":0.032},{"s":"b3","x":325,"y":0.085},{"s":"b3","x":330,"y":0.073},{"s":"b3","x":335,"y":0.098},{"s":"b3","x":340,"y":0.093},{"s":"b3","x":345,"y":0.126},{"s":"b3","x":350,"y":0.151},{"s":"b3","x":355,"y":0.129},{"s":"b3","x":360,"y":0.159},{"s":"b3","x":365,"y":0.157},{"s":"b3","x":370,"y":0.192},{"s":"b3","x":375,"y":0.18},{"s":"b3","x":380,"y":0.23},{"s":"b3","x":385,"y":0.242},{"s":"b3","x":390,"y":0.256},{"s":"b3","x":395,"y":0.299},{"s":"b3","x":400,"y":0.289},{"s":"b3","x":405,"y":0.328},{"s":"b3","x":410,"y":0.334},{"s":"b3","x":415,"y":0.374},{"s":"b3","x":420,"y":0.363},{"s":"b3","x":425,"y":0.39},{"s":"b3","x":430,"y":0.417},{"s":"b3","x":435,"y":0.402},{"s":"b3","x":440,"y":0.441},{"s":"b3","x":445,"y":0.448},{"s":"b3","x":450,"y":0.473},{"s":"b3","x":455,"y":0.473},{"s":"b3","x":460,"y":0.505},{"s":"b3","x":465,"y":0.5},{"s":"b3","x":470,"y":0.519},{"s":"b3","x":475,"y":0.518},{"s":"b3","x":480,"y":0.546},{"s":"b3","x":485,"y":0.551},{"s":"b3","x":490,"y":0.554},{"s":"b3","x":495,"y":0.574},{"s":"b3","x":500,"y":0.567},{"s":"b3","x":505,"y":0.591},{"s":"b3","x":510,"y":0.583},{"s":"b3","x":515,"y":0.597},{"s":"b3","x":520,"y":0.586},{"s":"b3","x":525,"y":0.606},{"s":"b3","x":530,"y":0.62},{"s":"b3","x":535,"y":0.607},{"s":"b3","x":540,"y":0.604},{"s":"b3","x":545,"y":0.623},{"s":"b3","x":550,"y":0.621},{"s":"b3","x":555,"y":0.616},{"s":"b3","x":560,"y":0.638},{"s":"b3","x":565,"y":0.628},{"s":"b3","x":570,"y":0.638},{"s":"b3","x":575,"y":0.623},{"s":"b3","x":580,"y":0.644},{"s":"b3","x":585,"y":0.638},{"s":"b3","x":590,"y":0.629},{"s":"b3","x":595,"y":0.642},{"s":"b3","x":600,"y":0.618},
{"s":"b3","x":605,"y":0.605},{"s":"b3","x":611,"y":0.58},{"s":"b3","x":616,"y":0.54},{"s":"b3","x":620,"y":0.506},{"s":"b3","x":625,"y":0.46},{"s":"b3","x":630,"y":0.415},{"s":"b3","x":634,"y":0.375},{"s":"b3","x":640,"y":0.29},{"s":"b3","x":647,"y":0.2},{"s":"b3","x":654,"y":0.135},{"s":"b3","x":661,"y":0.09},{"s":"b3","x":668,"y":0.054},{"s":"b3","x":675,"y":0.038},{"s":"b3","x":682,"y":0.025},{"s":"b3","x":688,"y":0.02},{"s":"b3","x":692,"y":0.017},{"s":"b3","x":699,"y":0.0},{"s":"b3","x":710,"y":-0.02},{"s":"b3","x":720,"y":-0.038},{"s":"b3","x":735,"y":-0.06},{"s":"b3","x":749,"y":-0.078},{"s":"b3","x":775,"y":-0.097},{"s":"b3","x":800,"y":-0.112},{"s":"b3","x":825,"y":-0.122},{"s":"b3","x":850,"y":-0.13},{"s":"b3","x":875,"y":-0.135},{"s":"b3","x":896,"y":-0.137},{"s":"b3","x":925,"y":-0.133},{"s":"b3","x":950,"y":-0.125},{"s":"b3","x":975,"y":-0.115},{"s":"b3","x":990,"y":-0.107},{"s":"b3","x":1000,"y":-0.1},
{"s":"c1","x":300,"y":-0.068},{"s":"c1","x":310,"y":-0.075},{"s":"c1","x":320,"y":-0.061},{"s":"c1","x":330,"y":-0.014},{"s":"c1","x":340,"y":0.011},{"s":"c1","x":350,"y":0.033},{"s":"c1","x":360,"y":0.091},{"s":"c1","x":370,"y":0.108},{"s":"c1","x":380,"y":0.165},{"s":"c1","x":390,"y":0.198},{"s":"c1","x":400,"y":0.268},{"s":"c1","x":410,"y":0.292},{"s":"c1","x":420,"y":0.324},{"s":"c1","x":430,"y":0.37},{"s":"c1","x":440,"y":0.386},{"s":"c1","x":450,"y":0.412},{"s":"c1","x":460,"y":0.447},{"s":"c1","x":470,"y":0.46},{"s":"c1","x":480,"y":0.469},{"s":"c1","x":490,"y":0.502},{"s":"c1","x":500,"y":0.509},{"s":"c1","x":510,"y":0.535},{"s":"c1","x":520,"y":0.553},{"s":"c1","x":530,"y":0.584},{"s":"c1","x":540,"y":0.596},{"s":"c1","x":550,"y":0.58},{"s":"c1","x":560,"y":0.597},{"s":"c1","x":570,"y":0.595},{"s":"c1","x":580,"y":0.608},{"s":"c1","x":590,"y":0.586},
{"s":"c1","x":600,"y":0.585},{"s":"c1","x":606,"y":0.55},{"s":"c1","x":613,"y":0.48},{"s":"c1","x":620,"y":0.39},{"s":"c1","x":627,"y":0.27},{"s":"c1","x":634,"y":0.15},{"s":"c1","x":640,"y":0.07},{"s":"c1","x":647,"y":0.0},{"s":"c1","x":654,"y":-0.04},{"s":"c1","x":660,"y":-0.065},{"s":"c1","x":670,"y":-0.09},{"s":"c1","x":680,"y":-0.1},{"s":"c1","x":686,"y":-0.104},{"s":"c1","x":690,"y":-0.107},{"s":"c1","x":695,"y":-0.12},{"s":"c1","x":700,"y":-0.135},{"s":"c1","x":723,"y":-0.166},{"s":"c1","x":750,"y":-0.19},{"s":"c1","x":775,"y":-0.204},{"s":"c1","x":800,"y":-0.213},{"s":"c1","x":825,"y":-0.219},{"s":"c1","x":850,"y":-0.222},{"s":"c1","x":875,"y":-0.224},{"s":"c1","x":900,"y":-0.225},{"s":"c1","x":925,"y":-0.22},{"s":"c1","x":950,"y":-0.21},{"s":"c1","x":975,"y":-0.199},{"s":"c1","x":1000,"y":-0.185},
{"s":"c2","x":300,"y":-0.079},{"s":"c2","x":310,"y":-0.092},{"s":"c2","x":320,"y":-0.065},{"s":"c2","x":330,"y":-0.052},{"s":"c2","x":340,"y":-0.002},{"s":"c2","x":350,"y":0.032},{"s":"c2","x":360,"y":0.054},{"s":"c2","x":370,"y":0.11},{"s":"c2","x":380,"y":0.136},{"s":"c2","x":390,"y":0.182},{"s":"c2","x":400,"y":0.247},{"s":"c2","x":410,"y":0.28},{"s":"c2","x":420,"y":0.299},{"s":"c2","x":430,"y":0.352},{"s":"c2","x":440,"y":0.369},{"s":"c2","x":450,"y":0.405},{"s":"c2","x":460,"y":0.413},{"s":"c2","x":470,"y":0.444},{"s":"c2","x":480,"y":0.471},{"s":"c2","x":490,"y":0.47},{"s":"c2","x":500,"y":0.502},{"s":"c2","x":510,"y":0.515},{"s":"c2","x":520,"y":0.548},{"s":"c2","x":530,"y":0.548},{"s":"c2","x":540,"y":0.571},{"s":"c2","x":550,"y":0.571},{"s":"c2","x":560,"y":0.571},{"s":"c2","x":570,"y":0.585},{"s":"c2","x":580,"y":0.57},{"s":"c2","x":590,"y":0.58},
{"s":"c2","x":600,"y":0.565},{"s":"c2","x":606,"y":0.54},{"s":"c2","x":613,"y":0.47},{"s":"c2","x":620,"y":0.37},{"s":"c2","x":627,"y":0.25},{"s":"c2","x":634,"y":0.13},{"s":"c2","x":640,"y":0.05},{"s":"c2","x":647,"y":-0.02},{"s":"c2","x":654,"y":-0.05},{"s":"c2","x":660,"y":-0.08},{"s":"c2","x":670,"y":-0.105},{"s":"c2","x":680,"y":-0.12},{"s":"c2","x":686,"y":-0.122},{"s":"c2","x":690,"y":-0.125},{"s":"c2","x":695,"y":-0.138},{"s":"c2","x":700,"y":-0.15},{"s":"c2","x":723,"y":-0.196},{"s":"c2","x":750,"y":-0.215},{"s":"c2","x":775,"y":-0.23},{"s":"c2","x":800,"y":-0.24},{"s":"c2","x":825,"y":-0.246},{"s":"c2","x":850,"y":-0.25},{"s":"c2","x":875,"y":-0.251},{"s":"c2","x":900,"y":-0.25},{"s":"c2","x":925,"y":-0.24},{"s":"c2","x":950,"y":-0.225},{"s":"c2","x":975,"y":-0.203},{"s":"c2","x":1000,"y":-0.176},
{"s":"c3","x":300,"y":-0.116},{"s":"c3","x":310,"y":-0.11},{"s":"c3","x":320,"y":-0.104},{"s":"c3","x":330,"y":-0.078},{"s":"c3","x":340,"y":-0.033},{"s":"c3","x":350,"y":0.0},{"s":"c3","x":360,"y":0.019},{"s":"c3","x":370,"y":0.072},{"s":"c3","x":380,"y":0.099},{"s":"c3","x":390,"y":0.155},{"s":"c3","x":400,"y":0.213},{"s":"c3","x":410,"y":0.264},{"s":"c3","x":420,"y":0.301},{"s":"c3","x":430,"y":0.31},{"s":"c3","x":440,"y":0.352},{"s":"c3","x":450,"y":0.375},{"s":"c3","x":460,"y":0.408},{"s":"c3","x":470,"y":0.408},{"s":"c3","x":480,"y":0.446},{"s":"c3","x":490,"y":0.461},{"s":"c3","x":500,"y":0.476},{"s":"c3","x":510,"y":0.51},{"s":"c3","x":520,"y":0.512},{"s":"c3","x":530,"y":0.545},{"s":"c3","x":540,"y":0.543},{"s":"c3","x":550,"y":0.561},{"s":"c3","x":560,"y":0.549},{"s":"c3","x":570,"y":0.56},{"s":"c3","x":580,"y":0.567},{"s":"c3","x":590,"y":0.544},
{"s":"c3","x":600,"y":0.545},{"s":"c3","x":606,"y":0.52},{"s":"c3","x":613,"y":0.44},{"s":"c3","x":620,"y":0.34},{"s":"c3","x":627,"y":0.22},{"s":"c3","x":634,"y":0.11},{"s":"c3","x":640,"y":0.03},{"s":"c3","x":647,"y":-0.04},{"s":"c3","x":654,"y":-0.07},{"s":"c3","x":660,"y":-0.09},{"s":"c3","x":670,"y":-0.115},{"s":"c3","x":680,"y":-0.13},{"s":"c3","x":686,"y":-0.135},{"s":"c3","x":690,"y":-0.14},{"s":"c3","x":695,"y":-0.152},{"s":"c3","x":700,"y":-0.165},{"s":"c3","x":723,"y":-0.203},{"s":"c3","x":750,"y":-0.225},{"s":"c3","x":775,"y":-0.242},{"s":"c3","x":800,"y":-0.254},{"s":"c3","x":825,"y":-0.263},{"s":"c3","x":850,"y":-0.27},{"s":"c3","x":875,"y":-0.272},{"s":"c3","x":900,"y":-0.27},{"s":"c3","x":925,"y":-0.264},{"s":"c3","x":950,"y":-0.255},{"s":"c3","x":975,"y":-0.243},{"s":"c3","x":1000,"y":-0.228},
{"s":"c4","x":300,"y":-0.131},{"s":"c4","x":310,"y":-0.118},{"s":"c4","x":320,"y":-0.141},{"s":"c4","x":330,"y":-0.085},{"s":"c4","x":340,"y":-0.067},{"s":"c4","x":350,"y":-0.016},{"s":"c4","x":360,"y":0.031},{"s":"c4","x":370,"y":0.04},{"s":"c4","x":380,"y":0.092},{"s":"c4","x":390,"y":0.135},{"s":"c4","x":400,"y":0.208},{"s":"c4","x":410,"y":0.228},{"s":"c4","x":420,"y":0.276},{"s":"c4","x":430,"y":0.301},{"s":"c4","x":440,"y":0.326},{"s":"c4","x":450,"y":0.37},{"s":"c4","x":460,"y":0.372},{"s":"c4","x":470,"y":0.405},{"s":"c4","x":480,"y":0.418},{"s":"c4","x":490,"y":0.441},{"s":"c4","x":500,"y":0.444},{"s":"c4","x":510,"y":0.47},{"s":"c4","x":520,"y":0.497},{"s":"c4","x":530,"y":0.499},{"s":"c4","x":540,"y":0.524},{"s":"c4","x":550,"y":0.524},{"s":"c4","x":560,"y":0.538},{"s":"c4","x":570,"y":0.528},{"s":"c4","x":580,"y":0.552},{"s":"c4","x":590,"y":0.53},
{"s":"c4","x":597,"y":0.52},{"s":"c4","x":602,"y":0.495},{"s":"c4","x":606,"y":0.46},{"s":"c4","x":613,"y":0.37},{"s":"c4","x":620,"y":0.28},{"s":"c4","x":627,"y":0.18},{"s":"c4","x":634,"y":0.09},{"s":"c4","x":640,"y":0.03},{"s":"c4","x":647,"y":-0.02},{"s":"c4","x":654,"y":-0.06},{"s":"c4","x":660,"y":-0.097},{"s":"c4","x":670,"y":-0.125},{"s":"c4","x":680,"y":-0.14},{"s":"c4","x":686,"y":-0.145},{"s":"c4","x":690,"y":-0.149},{"s":"c4","x":695,"y":-0.162},{"s":"c4","x":700,"y":-0.176},{"s":"c4","x":723,"y":-0.203},{"s":"c4","x":750,"y":-0.225},{"s":"c4","x":775,"y":-0.238},{"s":"c4","x":800,"y":-0.247},{"s":"c4","x":825,"y":-0.25},{"s":"c4","x":850,"y":-0.252},{"s":"c4","x":875,"y":-0.252},{"s":"c4","x":900,"y":-0.25},{"s":"c4","x":925,"y":-0.24},{"s":"c4","x":950,"y":-0.225},{"s":"c4","x":975,"y":-0.208},{"s":"c4","x":1000,"y":-0.19},
{"s":"c5","x":300,"y":-0.089},{"s":"c5","x":310,"y":-0.1},{"s":"c5","x":320,"y":-0.078},{"s":"c5","x":330,"y":-0.055},{"s":"c5","x":340,"y":-0.012},{"s":"c5","x":350,"y":0.008},{"s":"c5","x":360,"y":0.056},{"s":"c5","x":370,"y":0.091},{"s":"c5","x":380,"y":0.126},{"s":"c5","x":390,"y":0.19},{"s":"c5","x":400,"y":0.222},{"s":"c5","x":410,"y":0.275},{"s":"c5","x":420,"y":0.298},{"s":"c5","x":430,"y":0.341},{"s":"c5","x":440,"y":0.344},{"s":"c5","x":450,"y":0.38},{"s":"c5","x":460,"y":0.407},{"s":"c5","x":470,"y":0.409},{"s":"c5","x":480,"y":0.434},{"s":"c5","x":490,"y":0.439},{"s":"c5","x":500,"y":0.468},{"s":"c5","x":510,"y":0.473},{"s":"c5","x":520,"y":0.512},{"s":"c5","x":530,"y":0.505},{"s":"c5","x":540,"y":0.522},{"s":"c5","x":550,"y":0.515},{"s":"c5","x":560,"y":0.536},{"s":"c5","x":570,"y":0.536},{"s":"c5","x":580,"y":0.536},{"s":"c5","x":590,"y":0.542},
{"s":"c5","x":600,"y":0.525},{"s":"c5","x":606,"y":0.5},{"s":"c5","x":613,"y":0.44},{"s":"c5","x":620,"y":0.36},{"s":"c5","x":627,"y":0.25},{"s":"c5","x":634,"y":0.14},{"s":"c5","x":640,"y":0.06},{"s":"c5","x":647,"y":-0.01},{"s":"c5","x":654,"y":-0.05},{"s":"c5","x":660,"y":-0.07},{"s":"c5","x":670,"y":-0.095},{"s":"c5","x":680,"y":-0.105},{"s":"c5","x":686,"y":-0.108},{"s":"c5","x":690,"y":-0.11},{"s":"c5","x":695,"y":-0.12},{"s":"c5","x":700,"y":-0.13},{"s":"c5","x":723,"y":-0.176},{"s":"c5","x":750,"y":-0.2},{"s":"c5","x":775,"y":-0.215},{"s":"c5","x":800,"y":-0.225},{"s":"c5","x":825,"y":-0.23},{"s":"c5","x":850,"y":-0.232},{"s":"c5","x":875,"y":-0.234},{"s":"c5","x":900,"y":-0.235},{"s":"c5","x":925,"y":-0.225},{"s":"c5","x":950,"y":-0.21},{"s":"c5","x":975,"y":-0.193},{"s":"c5","x":1000,"y":-0.176},
{"s":"c6","x":300,"y":-0.064},{"s":"c6","x":310,"y":-0.059},{"s":"c6","x":320,"y":-0.054},{"s":"c6","x":330,"y":-0.01},{"s":"c6","x":340,"y":0.002},{"s":"c6","x":350,"y":0.055},{"s":"c6","x":360,"y":0.078},{"s":"c6","x":370,"y":0.131},{"s":"c6","x":380,"y":0.154},{"s":"c6","x":390,"y":0.2},{"s":"c6","x":400,"y":0.257},{"s":"c6","x":410,"y":0.269},{"s":"c6","x":420,"y":0.314},{"s":"c6","x":430,"y":0.329},{"s":"c6","x":440,"y":0.368},{"s":"c6","x":450,"y":0.373},{"s":"c6","x":460,"y":0.412},{"s":"c6","x":470,"y":0.415},{"s":"c6","x":480,"y":0.432},{"s":"c6","x":490,"y":0.43},{"s":"c6","x":500,"y":0.456},{"s":"c6","x":510,"y":0.461},{"s":"c6","x":520,"y":0.466},{"s":"c6","x":530,"y":0.487},{"s":"c6","x":540,"y":0.482},{"s":"c6","x":550,"y":0.506},{"s":"c6","x":560,"y":0.498},{"s":"c6","x":570,"y":0.512},{"s":"c6","x":580,"y":0.495},{"s":"c6","x":590,"y":0.509},
{"s":"c6","x":600,"y":0.495},{"s":"c6","x":606,"y":0.47},{"s":"c6","x":613,"y":0.42},{"s":"c6","x":620,"y":0.35},{"s":"c6","x":627,"y":0.26},{"s":"c6","x":634,"y":0.17},{"s":"c6","x":640,"y":0.1},{"s":"c6","x":647,"y":0.04},{"s":"c6","x":654,"y":0.0},{"s":"c6","x":660,"y":-0.02},{"s":"c6","x":670,"y":-0.055},{"s":"c6","x":680,"y":-0.075},{"s":"c6","x":686,"y":-0.08},{"s":"c6","x":690,"y":-0.085},{"s":"c6","x":695,"y":-0.1},{"s":"c6","x":700,"y":-0.112},{"s":"c6","x":723,"y":-0.154},{"s":"c6","x":750,"y":-0.18},{"s":"c6","x":775,"y":-0.195},{"s":"c6","x":800,"y":-0.206},{"s":"c6","x":825,"y":-0.216},{"s":"c6","x":850,"y":-0.225},{"s":"c6","x":875,"y":-0.23},{"s":"c6","x":900,"y":-0.232},{"s":"c6","x":925,"y":-0.23},{"s":"c6","x":950,"y":-0.225},{"s":"c6","x":975,"y":-0.218},{"s":"c6","x":1000,"y":-0.21},
{"s":"c7","x":300,"y":-0.062},{"s":"c7","x":310,"y":-0.039},{"s":"c7","x":320,"y":-0.046},{"s":"c7","x":330,"y":-0.01},{"s":"c7","x":340,"y":0.027},{"s":"c7","x":350,"y":0.039},{"s":"c7","x":360,"y":0.094},{"s":"c7","x":370,"y":0.119},{"s":"c7","x":380,"y":0.168},{"s":"c7","x":390,"y":0.193},{"s":"c7","x":400,"y":0.262},{"s":"c7","x":410,"y":0.275},{"s":"c7","x":420,"y":0.312},{"s":"c7","x":430,"y":0.33},{"s":"c7","x":440,"y":0.366},{"s":"c7","x":450,"y":0.381},{"s":"c7","x":460,"y":0.396},{"s":"c7","x":470,"y":0.417},{"s":"c7","x":480,"y":0.422},{"s":"c7","x":490,"y":0.451},{"s":"c7","x":500,"y":0.448},{"s":"c7","x":510,"y":0.467},{"s":"c7","x":520,"y":0.46},{"s":"c7","x":530,"y":0.484},{"s":"c7","x":540,"y":0.502},{"s":"c7","x":550,"y":0.49},{"s":"c7","x":560,"y":0.489},{"s":"c7","x":570,"y":0.511},{"s":"c7","x":580,"y":0.506},{"s":"c7","x":590,"y":0.493},
{"s":"c7","x":600,"y":0.49},{"s":"c7","x":606,"y":0.46},{"s":"c7","x":613,"y":0.41},{"s":"c7","x":620,"y":0.35},{"s":"c7","x":627,"y":0.27},{"s":"c7","x":634,"y":0.18},{"s":"c7","x":640,"y":0.11},{"s":"c7","x":647,"y":0.05},{"s":"c7","x":654,"y":0.02},{"s":"c7","x":660,"y":0.0},{"s":"c7","x":671,"y":-0.044},{"s":"c7","x":680,"y":-0.062},{"s":"c7","x":686,"y":-0.068},{"s":"c7","x":690,"y":-0.073},{"s":"c7","x":695,"y":-0.085},{"s":"c7","x":700,"y":-0.093},{"s":"c7","x":713,"y":-0.118},{"s":"c7","x":723,"y":-0.137},{"s":"c7","x":750,"y":-0.165},{"s":"c7","x":775,"y":-0.185},{"s":"c7","x":800,"y":-0.198},{"s":"c7","x":825,"y":-0.205},{"s":"c7","x":850,"y":-0.21},{"s":"c7","x":875,"y":-0.212},{"s":"c7","x":900,"y":-0.213},{"s":"c7","x":925,"y":-0.21},{"s":"c7","x":950,"y":-0.205},{"s":"c7","x":975,"y":-0.198},{"s":"c7","x":1000,"y":-0.19}
],
"notes":[
{"x":643.0,"y":0.826,"t":"Cr"},
{"x":648.7,"y":0.753,"t":"≈ 600"},
{"x":683.8,"y":0.402,"t":"Cr"},
{"x":690.8,"y":0.321,"t":"≈ 690"}
],
"sups":[
{"x":661.4,"y":0.846,"t":"3+"},
{"x":702.5,"y":0.417,"t":"3+"}
],
"marker":[
{"x":691.8,"y":0.282,"y2":0.181}
]
},
"encoding":{
"x":{"field":"x","type":"quantitative","scale":{"domain":[300,1000],"nice":false,"zero":false},
"axis":{"values":[300,400,500,600,700,800,900,1000],
"labelExpr":"datum.value == 300 || datum.value == 1000 ? '' : datum.label",
"title":"Wavelength [nm]","titleFont":"Liberation Sans","titleFontSize":48,"titleFontWeight":"bold","titleColor":"#000000","titlePadding":14,"titleX":641,
"labelFont":"Liberation Sans","labelFontSize":42,"labelFontWeight":"bold","labelColor":"#000000","labelPadding":20,"labelFlush":false,
"tickSize":10,"tickWidth":3,"tickColor":"#000000","domainColor":"#000000","domainWidth":3,
"grid":true,"gridDash":[21,9],"gridColor":"#a8a8a8","gridWidth":1.5,
"gridOpacity":{"condition":{"test":"datum.value == 300 || datum.value == 1000","value":0},"value":1}}},
"y":{"field":"y","type":"quantitative","scale":{"domain":[-0.3,0.9],"nice":false,"zero":false},
"axis":{"values":[-0.3,-0.2,-0.1,0,0.1,0.2,0.3,0.4,0.5,0.6,0.7,0.8,0.9],
"labelExpr":"datum.value == 0.9 ? '0.9' : datum.value == 0.6 ? '0.6' : datum.value == 0.3 ? '0.3' : datum.value == 0 ? '0.0' : datum.value == -0.3 ? '-0.3' : ''",
"title":"Absorbance [a.u.]","titleFont":"Liberation Sans","titleFontSize":49,"titleFontWeight":"bold","titleColor":"#000000","titlePadding":18,"titleY":400,
"labelFont":"Liberation Sans","labelFontSize":40,"labelFontWeight":"bold","labelColor":"#000000","labelPadding":22,"labelFlush":false,
"labelOffset":{"condition":{"test":"datum.value == 0.9","value":9},"value":0},
"tickSize":12,"tickWidth":3,"tickColor":"#000000","domainColor":"#000000","domainWidth":3,
"grid":true,"gridDash":[21,9],
"gridColor":{"condition":{"test":"datum.value == 0.8 || datum.value == 0.7 || datum.value == 0.1 || datum.value == 0","value":"#d2d2d2"},"value":"#9c9c9c"},
"gridWidth":{"condition":{"test":"datum.value == 0.2 || datum.value == -0.2","value":3},"value":2},
"gridOpacity":{"condition":{"test":"datum.value == 0.9 || datum.value == -0.3","value":0},"value":1}}}
},
"layer":[
{
"data":{"name":"spectra"},
"mark":{"type":"line","strokeWidth":1.6,"clip":true},
"encoding":{
"color":{"field":"s","type":"nominal","legend":null,
"scale":{"domain":["a1","a2","a3","a4","a5","a6","a7","a8","b1","b2","b3","c1","c2","c3","c4","c5","c6","c7"],
"range":["#ff0000","#00e000","#0000ff","#ff00ff","#00e5ff","#000000","#ff8000","#800000","#2e8b2e","#808000","#111111","#ff0000","#ff00ff","#00e5ff","#0000ff","#800080","#ff8000","#008080"]}}
}
},
{
"data":{"name":"notes"},
"mark":{"type":"text","font":"Liberation Sans","fontSize":39,"fontWeight":"bold","color":"#000000","align":"center","baseline":"alphabetic"},
"encoding":{"text":{"field":"t","type":"nominal"}}
},
{
"data":{"name":"sups"},
"mark":{"type":"text","font":"Liberation Sans","fontSize":23,"fontWeight":"bold","color":"#000000","align":"center","baseline":"alphabetic"},
"encoding":{"text":{"field":"t","type":"nominal"}}
},
{
"data":{"name":"marker"},
"mark":{"type":"rule","strokeWidth":3,"color":"#000000"},
"encoding":{"y2":{"field":"y2"}}
}
]
}
